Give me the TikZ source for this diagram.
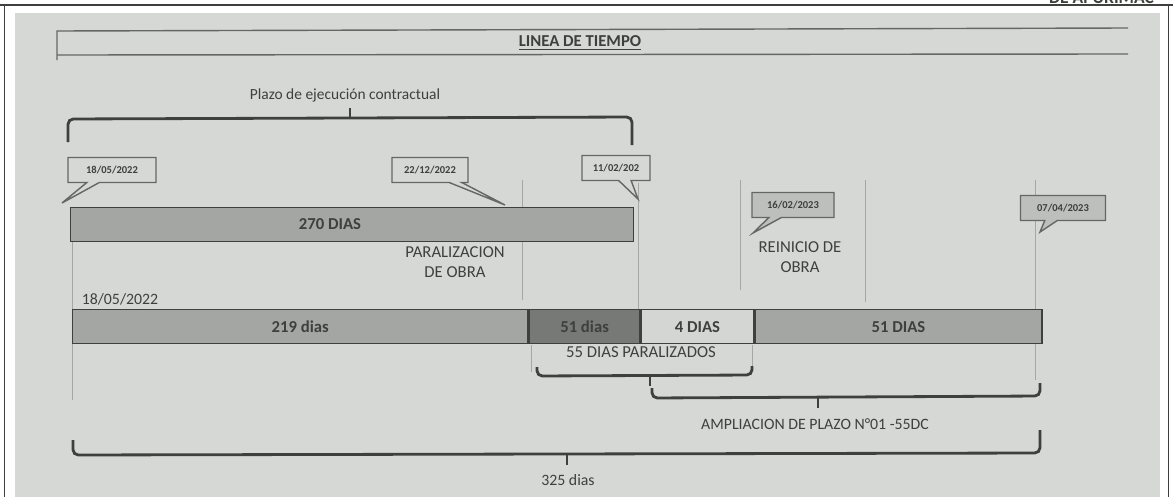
\documentclass[tikz,border=0pt]{standalone}
\usepackage{fontspec}
\setmainfont{Carlito}
\usetikzlibrary{shapes.callouts}
\definecolor{papercolor}{RGB}{214,216,213}
\definecolor{inkcolor}{RGB}{62,64,62}
\definecolor{barcolor}{RGB}{163,166,163}
\definecolor{darkbarcolor}{RGB}{118,121,118}
\definecolor{lightbarcolor}{RGB}{212,214,211}
\definecolor{notecolor}{RGB}{188,191,188}

\tikzset{
  datenote/.style={rectangle callout, draw=inkcolor!80, fill=papercolor, thick,
    minimum width=#1*0.02cm, minimum height=0.5cm, inner sep=1pt,
    font=\fontsize{6}{7}\selectfont\bfseries, text=inkcolor},
  daybar/.style={draw=inkcolor, thick, minimum width=#1*0.02cm, minimum height=0.68cm, inner sep=0pt,
    font=\fontsize{9.5}{11}\selectfont\bfseries, text=inkcolor},
  brace/.style={draw=inkcolor, line width=1.6pt, rounded corners=3},
  guide/.style={draw=gray!70, thin},
  label/.style={font=\fontsize{9.5}{11.5}\selectfont, text=inkcolor, align=center}
}

\begin{document}
\begin{tikzpicture}[x=0.02cm, y=-0.02cm] % 1 unit = one pixel of the scan

    \useasboundingbox (0,0) rectangle (1173,497);
    \fill[white] (0,0) rectangle (1173,497);

    % Page border and cut header
    \draw[inkcolor, thick] (0,5) -- (1173,5);
    \draw[inkcolor] (4,5) -- (4,497);
    \draw[inkcolor] (1168,5) -- (1168,497);
    \node[anchor=base east, font=\fontsize{10}{12}\selectfont\bfseries, text=inkcolor] (header) at (1160,4) {DE APURIMAC};

    % Scanned sheet
    \fill[papercolor] (15,13) rectangle (1160,497);

    % Title banner
    \draw[inkcolor!80, thick] (1128,28) -- (57,31) -- (57,60);
    \draw[inkcolor!80, thick] (57,55) -- (1128,54);
    \node[font=\fontsize{9.5}{11}\selectfont\bfseries, text=inkcolor] (title) at (580,43) {\underline{LINEA DE TIEMPO}};

    % Plazo de ejecucion contractual
    \node[label, font=\fontsize{8.8}{10}\selectfont] (plazo) at (345,95) {Plazo de ejecución contractual};
    \draw[brace] (68,142) -- (68,119) -- (632,117) -- (632,145);
    \draw[inkcolor, line width=1.6pt] (350,108) -- (350,118);

    % Guide lines
    \draw[guide] (72,240) -- (72,400);
    \draw[guide] (522,180) -- (522,300);
    \draw[guide] (638,183) -- (638,310);
    \draw[guide] (740,180) -- (740,290);
    \draw[guide] (865,180) -- (865,302);
    \draw[guide] (1035,180) -- (1035,380);
    \draw[guide] (531,345) -- (531,372);
    \draw[guide] (752,345) -- (752,372);

    % 270 dias bar
    \node[daybar=563, fill=barcolor, anchor=north west] (bartotal) at (70,207) {};
    \node[font=\fontsize{9.5}{11}\selectfont\bfseries, text=inkcolor] (bartotaltext) at (330,224) {270 DIAS};

    % Date callouts
    \node[datenote=88, callout absolute pointer={(62,203)}] (dateA) at (112,170) {18/05/2022};
    \node[datenote=76, callout absolute pointer={(505,205)}] (dateB) at (430,170) {22/12/2022};
    \node[datenote=68, callout absolute pointer={(638,199)}] (dateC) at (616,168) {11/02/202};
    \node[datenote=82, fill=notecolor, callout absolute pointer={(753,233)}] (dateD) at (793,205) {16/02/2023};
    \node[datenote=85, fill=notecolor, callout absolute pointer={(1040,232)}] (dateE) at (1063,208) {07/04/2023};

    % Event labels
    \node[label] (paralizacion) at (455,262) {PARALIZACION\\DE OBRA};
    \node[label] (reinicio) at (800,257) {REINICIO DE\\OBRA};
    \node[label, font=\fontsize{9}{11}\selectfont] (startdate) at (120,299) {18/05/2022};

    % Execution bar
    \node[daybar=455, fill=barcolor, anchor=north west] (segA) at (72,309) {219 dias};
    \node[daybar=111, fill=darkbarcolor, anchor=north west] (segB) at (segA.north east) {51 dias};
    \node[daybar=112, fill=lightbarcolor, anchor=north west] (segC) at (segB.north east) {4 DIAS};
    \node[daybar=287, fill=barcolor, anchor=north west] (segD) at (segC.north east) {51 DIAS};

    % 55 dias paralizados
    \node[label] (paralizados) at (641,352) {55 DIAS PARALIZADOS};
    \draw[brace] (537,367) -- (537,376) -- (752,375) -- (752,366);
    \draw[inkcolor, line width=1.6pt] (650,375) -- (650,386);

    % Ampliacion de plazo
    \draw[brace] (652,388) -- (652,398) -- (1040,396) -- (1040,383);
    \draw[inkcolor, line width=1.6pt] (818,397) -- (818,408);
    \node[label, font=\fontsize{9}{11}\selectfont] (ampliacion) at (815,424) {AMPLIACION DE PLAZO N°01 -55DC};

    % 325 dias
    \draw[brace] (73,440) -- (73,455) -- (1040,453) -- (1040,430);
    \draw[inkcolor, line width=1.6pt] (567,454) -- (567,465);
    \node[label, font=\fontsize{9}{11}\selectfont] (total) at (568,480) {325 dias};

\end{tikzpicture}
\end{document}
